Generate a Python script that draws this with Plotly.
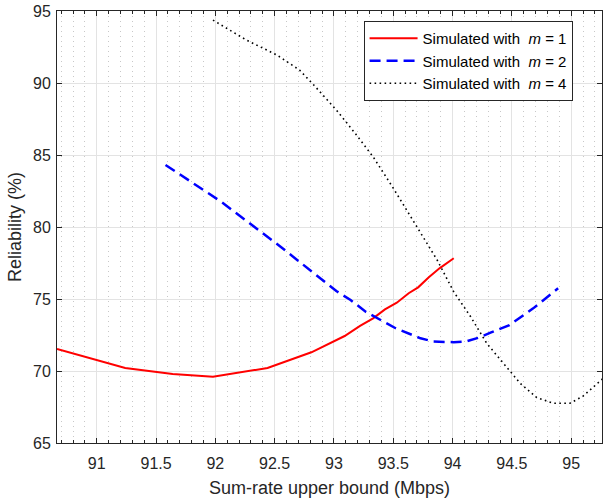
import plotly.graph_objects as go

x_m1 = [90.665, 91.24, 91.64, 91.98, 92.44, 92.81, 93.09, 93.22, 93.33, 93.43, 93.53, 93.63, 93.71, 93.80, 93.89, 94.01]
y_m1 = [71.53, 70.21, 69.79, 69.6, 70.21, 71.3, 72.43, 73.13, 73.66, 74.28, 74.74, 75.4, 75.81, 76.51, 77.13, 77.83]

x_m2 = [91.58, 92.05, 92.55, 93.02, 93.14, 93.27, 93.52, 93.73, 93.84, 94.01, 94.11, 94.23, 94.32, 94.48, 94.68, 94.89]
y_m2 = [84.31, 81.75, 78.63, 75.55, 74.93, 74.1, 72.97, 72.27, 72.04, 72.0, 72.04, 72.34, 72.66, 73.19, 74.35, 75.74]

x_m4 = [91.98, 92.26, 92.52, 92.71, 92.83, 93.02, 93.19, 93.33, 93.5, 93.73, 93.87, 94.01, 94.15, 94.29, 94.43, 94.57, 94.71, 94.85, 94.99, 95.10, 95.27, 95.4]
y_m4 = [94.37, 92.99, 91.94, 90.9, 89.86, 88.13, 86.39, 84.88, 82.7, 79.56, 77.71, 75.5, 73.8, 71.9, 70.53, 69.15, 68.15, 67.76, 67.76, 68.25, 69.49, 70.5]

names = ["Simulated with  <i>m</i> = 1", "Simulated with  <i>m</i> = 2", "Simulated with  <i>m</i> = 4"]

x_ticks = [91, 91.5, 92, 92.5, 93, 93.5, 94, 94.5, 95]
x_ticklabels = ["91", "91.5", "92", "92.5", "93", "93.5", "94", "94.5", "95"]
y_ticks = [65, 70, 75, 80, 85, 90, 95]

FONT = "Liberation Sans, Arial, sans-serif"
INK = "#262626"

fig = go.Figure()
fig.add_trace(go.Scatter(x=x_m1, y=y_m1, mode="lines", name=names[0],
                         line=dict(color="#ff0000", width=2)))
fig.add_trace(go.Scatter(x=x_m2, y=y_m2, mode="lines", name=names[1],
                         line=dict(color="#0000ff", width=2.5, dash="11px,6px")))
fig.add_trace(go.Scatter(x=x_m4, y=y_m4, mode="lines", name=names[2],
                         line=dict(color="#000000", width=1.6, dash="1.6px,3.4px")))

axis_common = dict(
    showline=True, linecolor=INK, linewidth=1, mirror="allticks",
    ticks="inside", ticklen=5, tickcolor=INK, tickwidth=1,
    showgrid=True, gridcolor="#e3e3e3", gridwidth=1,
    zeroline=False,
    tickfont=dict(family=FONT, size=16, color=INK),
)

fig.update_layout(
    width=603, height=500,
    margin=dict(l=57, r=1, t=11, b=57),
    paper_bgcolor="white", plot_bgcolor="white",
    font=dict(family=FONT, size=16, color=INK),
    xaxis=dict(
        range=[90.665, 95.26], tickvals=x_ticks, ticktext=x_ticklabels,
        ticklabelstandoff=6,
        title=dict(text="Sum-rate upper bound (Mbps)", standoff=10,
                   font=dict(family=FONT, size=18, color=INK)),
        minor=dict(dtick=0.1, ticks="inside", ticklen=3, tickcolor=INK,
                   showgrid=True, gridcolor="#c8c8c8", griddash="1px,4px", gridwidth=1),
        **axis_common,
    ),
    yaxis=dict(
        range=[65, 95], tickvals=y_ticks,
        ticklabelstandoff=2,
        title=dict(text="Reliability (%)", standoff=6,
                   font=dict(family=FONT, size=18, color=INK)),
        **axis_common,
    ),
    legend=dict(
        x=0.946, y=0.977, xanchor="right", yanchor="top",
        bgcolor="white", bordercolor=INK, borderwidth=1,
        font=dict(family=FONT, size=15, color="#000000"),
        tracegroupgap=0, itemwidth=48,
    ),
    showlegend=True,
)

fig.write_html("out.html")
